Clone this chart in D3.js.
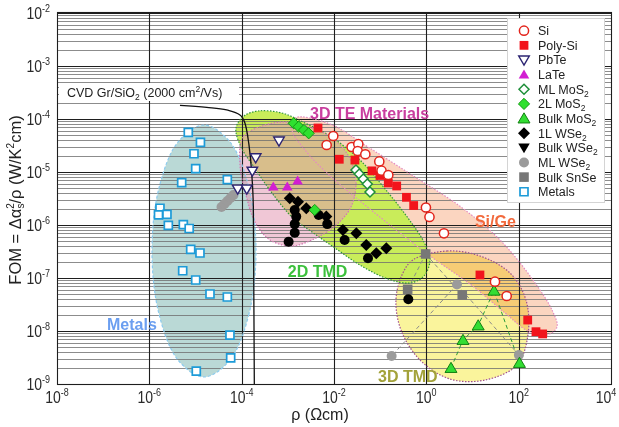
<!DOCTYPE html>
<html>
<head>
<meta charset="utf-8">
<script src="https://cdn.jsdelivr.net/npm/d3@7"></script>
<style>
  html, body { margin: 0; padding: 0; background: #fff; }
  svg { display: block; font-family: "Liberation Sans", Arial, sans-serif; }
</style>
</head>
<body>
<svg id="chart" width="619" height="427"></svg>
<script>
// ---------- measured points: [resistivity ρ (Ω·cm), FOM (W/K²cm)] ----------
const si = [[6.93e-3,3.23e-5],[9.64e-3,4.78e-5],[2.41e-2,2.96e-5],[3.36e-2,3.37e-5],[3.26e-2,2.49e-5],
  [4.77e-2,2.16e-5],[9.57e-2,1.58e-5],[0.107,1.06e-5],[0.150,8.77e-6],[0.98,2.14e-6],[1.17,1.42e-6],
  [2.41,6.97e-7],[30.7,8.51e-8],[55,4.57e-8]];
const polySi = [[4.50e-3,6.76e-5],[1.30e-2,1.74e-5],[2.84e-2,1.68e-5],[6.65e-2,1.05e-5],[9.9e-2,8.6e-6],
  [0.150,6.2e-6],[0.228,5.45e-6],[0.371,3.33e-6],[0.532,2.33e-6],[14.5,1.14e-7],[157,1.61e-8],
  [237,9.7e-9],[331,8.8e-9]];
const pbte = [[6.43e-4,3.85e-5],[2.01e-4,1.86e-5],[1.70e-4,1.04e-5],[8.2e-5,4.78e-6],[1.29e-4,4.78e-6]];
const late = [[4.84e-4,5.32e-6],[9.73e-4,5.32e-6],[1.63e-3,6.92e-6]];
const mlMoS2 = [[2.99e-2,1.09e-5],[3.53e-2,9.16e-6],[4.31e-2,7.38e-6],[5.26e-2,5.94e-6],[6.02e-2,4.2e-6]];
const twoLMoS2 = [[1.34e-3,8.3e-5],[1.72e-3,7.16e-5],[2.24e-3,6.19e-5],[2.83e-3,5.37e-5],[3.82e-3,1.92e-6]];
const bulkMoS2 = [[3.42,2.0e-9],[6.22,6.76e-9],[13.3,1.27e-8],[29.2,5.75e-8],[104,2.49e-9]];
const oneLWSe2 = [[1.10e-3,3.19e-6],[1.66e-3,2.75e-6],[2.51e-3,2.07e-6],[6.81e-3,1.44e-6],[1.56e-2,8.05e-7],
  [3.04e-2,6.97e-7],[5.0e-2,4.2e-7],[8.24e-2,2.92e-7],[0.136,3.63e-7]];
const bulkWSe2 = [];
const wse2Dots = [[1.41e-3,1.92e-6],[1.52e-3,1.44e-6],[1.41e-3,1.04e-6],[1.41e-3,7.16e-7],[1.04e-3,4.84e-7],
  [4.66e-3,1.55e-6],[7.14e-3,1.04e-6],[1.70e-2,5.21e-7],[5.45e-2,2.36e-7],[0.407,3.96e-8]];
const mlWSe2 = [[3.66e-5,2.19e-6],[4.25e-5,2.49e-6],[4.93e-5,2.84e-6],[5.73e-5,3.23e-6],[6.65e-5,3.68e-6],
  [4.61,7.53e-8],[0.177,3.37e-9],[101,3.52e-9]];
const bulkSnSe = [[0.968,2.84e-7],[0.394,6.12e-8],[6.0,4.78e-8]];
const metals = [[6.98e-6,5.61e-5],[1.28e-5,3.63e-5],[9.27e-6,2.21e-5],[1.01e-5,1.16e-5],[5.02e-6,6.28e-6],
  [4.89e-5,7.21e-6],[1.70e-6,2.07e-6],[1.58e-6,1.55e-6],[2.41e-6,1.58e-6],[2.58e-6,9.86e-7],[5.45e-6,1.02e-6],
  [7.30e-6,8.59e-7],[7.87e-6,3.48e-7],[1.25e-5,2.96e-7],[5.28e-6,1.37e-7],[1.01e-5,9.16e-8],[2.06e-5,4.99e-8],
  [4.89e-5,4.38e-8],[5.58e-5,8.34e-9],[5.78e-5,3.12e-9],[1.04e-5,1.75e-9]];

// CVD graphene on SiO2 (2000 cm²/Vs) curve
const cvdGraphene = [[4.61e-6,1.81e-4],[1.75e-5,1.66e-4],[4.74e-5,1.48e-4],[9.2e-5,1.19e-4],[1.18e-4,8.3e-5],
  [1.39e-4,4.02e-5],[1.65e-4,9.44e-6],[1.79e-4,2.21e-6],[1.88e-4,1e-9]];

// material-class regions: outline vertices in decades [log10 ρ, log10 FOM]
const regionMetals = [[-3.690,-6.491],[-3.842,-7.679],[-4.253,-8.547],[-4.816,-8.868],[-5.379,-8.547],
  [-5.791,-7.679],[-5.942,-6.491],[-5.791,-5.302],[-5.379,-4.434],[-4.816,-4.113],[-4.253,-4.434],[-3.842,-5.302]];
const region2dTmd = [[-4.123,-4.170],[-3.950,-3.943],[-3.647,-3.849],[-3.127,-3.887],[-2.629,-4.075],
  [-2.087,-4.321],[-1.437,-4.774],[-0.874,-5.340],[-0.398,-5.868],[-0.051,-6.321],[0.079,-6.660],
  [-0.051,-6.962],[-0.354,-7.094],[-0.831,-7.019],[-1.437,-6.755],[-1.979,-6.434],[-2.477,-6.132],
  [-2.889,-5.868],[-3.343,-5.396],[-3.733,-4.906],[-4.015,-4.528]];
const region3dTe = [[-3.971,-4.340],[-3.560,-4.132],[-3.062,-4.057],[-2.520,-4.151],[-2.044,-4.358],
  [-1.697,-4.679],[-1.524,-5.151],[-1.632,-5.660],[-1.979,-6.019],[-2.434,-6.264],[-2.910,-6.396],
  [-3.387,-6.283],[-3.712,-5.943],[-3.906,-5.434],[-4.036,-4.868]];
const regionSiGe = [[-2.845,-3.981],[-2.087,-4.094],[-1.264,-4.528],[-0.246,-5.094],[0.750,-5.660],
  [1.595,-6.283],[2.310,-7.038],[2.743,-7.642],[2.830,-7.925],[2.613,-8.075],[2.201,-8.000],[1.703,-7.660],
  [0.945,-7.113],[0.079,-6.585],[-0.679,-6.075],[-1.437,-5.547],[-2.087,-5.075],[-2.629,-4.585],[-2.910,-4.208]];
const region3dTmd = [[-0.290,-6.660],[0.447,-6.491],[1.162,-6.585],[1.812,-6.906],[2.158,-7.415],
  [2.201,-8.075],[1.963,-8.642],[1.270,-8.925],[0.512,-8.906],[-0.138,-8.547],[-0.549,-7.981],
  [-0.658,-7.415],[-0.528,-6.943]];

// axis ticks
const xTicks = [1e-8, 1e-6, 1e-4, 1e-2, 1, 1e2, 1e4];
const xTickExp = ["-8", "-6", "-4", "-2", "0", "2", "4"];
const yTicks = [1e-9, 1e-8, 1e-7, 1e-6, 1e-5, 1e-4, 1e-3, 1e-2];
const yTickExp = ["-9", "-8", "-7", "-6", "-5", "-4", "-3", "-2"];

// ---------- drawing ----------
const svg = d3.select("#chart");
const x = d3.scaleLog().domain([1e-8, 1e4]).range([57, 611]);
const y = d3.scaleLog().domain([1e-9, 1e-2]).range([384, 13]);
const px = d => x(d[0]), py = d => y(d[1]);
const lx = d => x(Math.pow(10, d[0])), ly = d => y(Math.pow(10, d[1]));
const outline = d3.line().x(lx).y(ly).curve(d3.curveCatmullRomClosed.alpha(0.5));

const regionStyles = [
  { pts: regionSiGe,   fill: "#fbd5c0", op: 1,    blend: "normal",   stroke: "#e48ac2", dash: "1.5,1.5" },
  { pts: region3dTmd,  fill: "#faf49c", op: 1,    blend: "multiply", stroke: "#a0508f", dash: "1.5,1.5" },
  { pts: regionMetals, fill: "#bad9d6", op: 1,    blend: "normal",   stroke: "#8ccbef", dash: "3,2" },
  { pts: region2dTmd,  fill: "#c9ec5a", op: 1,    blend: "normal",   stroke: "#2f963a", dash: "1.5,1.5" },
  { pts: region3dTe,   fill: "#e499b4", op: 0.55, blend: "normal",   stroke: "#d478b6", dash: "1.5,1.5" }
];

const gFill = svg.append("g");
regionStyles.forEach(r => {
  gFill.append("path").attr("d", outline(r.pts))
    .attr("fill", r.fill).attr("fill-opacity", r.op)
    .style("mix-blend-mode", r.blend);
});

// grid
const gGrid = svg.append("g");
const hLines = [];
for (let e = -9; e <= -3; e++) for (let m = 1; m <= 9; m++) hLines.push({ v: m * Math.pow(10, e), major: m === 1 });
hLines.push({ v: 1e-2, major: true });
gGrid.selectAll("line.h").data(hLines).join("line")
  .attr("x1", 57).attr("x2", 611)
  .attr("y1", d => Math.round(y(d.v)) + 0.5).attr("y2", d => Math.round(y(d.v)) + 0.5)
  .attr("stroke", d => d.major ? "#1e1e1e" : "#6e6e6e")
  .attr("stroke-width", d => d.major ? 1.1 : 0.8);
gGrid.selectAll("line.v").data([1e-6, 1e-4, 1e-2, 1, 1e2]).join("line")
  .attr("y1", 13).attr("y2", 384)
  .attr("x1", d => Math.round(x(d)) + 0.5).attr("x2", d => Math.round(x(d)) + 0.5)
  .attr("stroke", "#1e1e1e").attr("stroke-width", 1.1);

// region borders
regionStyles.forEach(r => {
  svg.append("path").attr("d", outline(r.pts)).attr("fill", "none")
    .attr("stroke", r.stroke).attr("stroke-width", 1.2).attr("stroke-dasharray", r.dash);
});

// CVD graphene label and curve
const cvdLabel = svg.append("g");
cvdLabel.append("rect").attr("x", 59).attr("y", 83).attr("width", 180).attr("height", 18).attr("fill", "#fff");
const cvdText = cvdLabel.append("text").attr("x", 67).attr("y", 97).attr("font-size", 12.5).attr("fill", "#222");
cvdText.append("tspan").text("CVD Gr/SiO");
cvdText.append("tspan").attr("font-size", 8.5).attr("dy", 3).text("2");
cvdText.append("tspan").attr("dy", -3).text(" (2000 cm");
cvdText.append("tspan").attr("font-size", 8.5).attr("dy", -5).text("2");
cvdText.append("tspan").attr("dy", 5).text("/Vs)");

svg.append("path").datum(cvdGraphene)
  .attr("d", d3.line().x(px).y(py).curve(d3.curveMonotoneX))
  .attr("fill", "none").attr("stroke", "#111").attr("stroke-width", 1.3);

// dashed guides linking related samples
const grayLinks = [[bulkSnSe[0], bulkSnSe[1]], [bulkSnSe[0], bulkSnSe[2]], [mlWSe2[5], mlWSe2[6]], [mlWSe2[5], mlWSe2[7]]];
svg.append("g").selectAll("path").data(grayLinks).join("path")
  .attr("d", d3.line().x(px).y(py))
  .attr("fill", "none").attr("stroke", "#8a8a8a").attr("stroke-width", 1).attr("stroke-dasharray", "4,3");
svg.append("path").datum(bulkMoS2)
  .attr("d", d3.line().x(px).y(py))
  .attr("fill", "none").attr("stroke", "#2a9a3a").attr("stroke-width", 1).attr("stroke-dasharray", "4,3");

// region names
const regionNames = [
  { t: "3D TE Materials", x: 3.02e-3, y: 9.8e-5, c: "#c93f9f" },
  { t: "Si/Ge", x: 11.3, y: 9.2e-7, c: "#f2693c" },
  { t: "2D TMD", x: 1.0e-3, y: 1.04e-7, c: "#3cc03c" },
  { t: "3D TMD", x: 0.0897, y: 1.11e-9, c: "#a3a23a" },
  { t: "Metals", x: 1.21e-7, y: 1.05e-8, c: "#6b9ef0" }
];
svg.append("g").selectAll("text").data(regionNames).join("text")
  .attr("x", d => x(d.x)).attr("y", d => y(d.y))
  .attr("font-size", 16).attr("font-weight", "bold").attr("fill", d => d.c)
  .text(d => d.t);

// markers
function shapePath(shape, r) {
  switch (shape) {
    case "circle": return `M${r},0A${r},${r} 0 1,1 ${-r},0A${r},${r} 0 1,1 ${r},0Z`;
    case "square": return `M${-r},${-r}H${r}V${r}H${-r}Z`;
    case "triUp": return `M0,${-r * 1.1}L${r * 1.15},${r * 0.85}L${-r * 1.15},${r * 0.85}Z`;
    case "triDown": return `M0,${r * 1.1}L${r * 1.15},${-r * 0.85}L${-r * 1.15},${-r * 0.85}Z`;
    case "diamond": return `M0,${-r}L${r},0L0,${r}L${-r},0Z`;
  }
}
const series = [
  { key: "metals",   data: metals,   label: "Metals",     shape: "square",  r: 4,   fill: "#fff",    stroke: "#1d9bd8", sw: 1.7 },
  { key: "mlWSe2",   data: mlWSe2,   label: "ML WSe_2",   shape: "circle",  r: 5,   fill: "#9b9b9b", stroke: "none",    sw: 0 },
  { key: "bulkSnSe", data: bulkSnSe, label: "Bulk SnSe",  shape: "square",  r: 4.8, fill: "#777",    stroke: "none",    sw: 0 },
  { key: "wse2Dots", data: wse2Dots, label: null,         shape: "circle",  r: 5,   fill: "#000",    stroke: "none",    sw: 0 },
  { key: "oneLWSe2", data: oneLWSe2, label: "1L WSe_2",   shape: "diamond", r: 6,   fill: "#000",    stroke: "none",    sw: 0 },
  { key: "bulkWSe2", data: bulkWSe2, label: "Bulk WSe_2", shape: "triDown", r: 5,   fill: "#000",    stroke: "none",    sw: 0 },
  { key: "pbte",     data: pbte,     label: "PbTe",       shape: "triDown", r: 4.6, fill: "#fff",    stroke: "#2c2472", sw: 1.4 },
  { key: "late",     data: late,     label: "LaTe",       shape: "triUp",   r: 4.6, fill: "#d21ed2", stroke: "none",    sw: 0 },
  { key: "mlMoS2",   data: mlMoS2,   label: "ML MoS_2",   shape: "diamond", r: 5,   fill: "#fff",    stroke: "#1f8f3a", sw: 1.5 },
  { key: "twoLMoS2", data: twoLMoS2, label: "2L MoS_2",   shape: "diamond", r: 5.6, fill: "#2fe02f", stroke: "#149a14", sw: 1 },
  { key: "bulkMoS2", data: bulkMoS2, label: "Bulk MoS_2", shape: "triUp",   r: 5.2, fill: "#33dd33", stroke: "#128012", sw: 1 },
  { key: "polySi",   data: polySi,   label: "Poly-Si",    shape: "square",  r: 4.4, fill: "#f2141c", stroke: "none",    sw: 0 },
  { key: "si",       data: si,       label: "Si",         shape: "circle",  r: 4.6, fill: "#fff",    stroke: "#e3241c", sw: 1.5 }
];
const gPts = svg.append("g");
series.forEach(s => {
  gPts.append("g").selectAll("path").data(s.data).join("path")
    .attr("transform", d => `translate(${px(d)},${py(d)})`)
    .attr("d", shapePath(s.shape, s.r))
    .attr("fill", s.fill).attr("stroke", s.stroke).attr("stroke-width", s.sw);
});

// frame
svg.append("rect").attr("x", 57.5).attr("y", 12.5).attr("width", 554).attr("height", 372)
  .attr("fill", "none").attr("stroke", "#1e1e1e").attr("stroke-width", 1.1);

// tick labels (10 with superscripted exponent)
function powerLabel(g, exp, anchor) {
  const t = g.append("text").attr("text-anchor", anchor).attr("fill", "#2a2a2a").attr("font-size", 14);
  t.append("tspan").text("10");
  t.append("tspan").attr("font-size", 9).attr("dy", -6).text(exp);
  return t;
}
xTicks.forEach((v, i) => {
  const cx = Math.min(x(v), 606);   // keep the last label inside the page
  const g = svg.append("g").attr("transform", `translate(${cx},403) scale(1,1.12)`);
  powerLabel(g, xTickExp[i], "middle");
});
yTicks.forEach((v, i) => {
  const g = svg.append("g").attr("transform", `translate(50,${y(v) + 6}) scale(1,1.12)`);
  powerLabel(g, yTickExp[i], "end");
});

// axis titles
svg.append("text").attr("x", 320).attr("y", 420).attr("text-anchor", "middle")
  .attr("font-size", 16).attr("fill", "#222").text("ρ (Ωcm)");

const yt = svg.append("text").attr("transform", "translate(21,200) rotate(-90)")
  .attr("text-anchor", "middle").attr("font-size", 16.5).attr("fill", "#222");
yt.append("tspan").text("FOM = Δα");
yt.append("tspan").attr("font-size", 10).attr("dy", -7).text("2");
yt.append("tspan").attr("font-size", 10).attr("dx", -5.5).attr("dy", 10).text("s");
yt.append("tspan").attr("dy", -3).text("/ρ (W/K");
yt.append("tspan").attr("font-size", 10).attr("dy", -7).text("2");
yt.append("tspan").attr("dy", 7).text("cm)");

// legend
const legendOrder = ["si", "polySi", "pbte", "late", "mlMoS2", "twoLMoS2", "bulkMoS2", "oneLWSe2", "bulkWSe2", "mlWSe2", "bulkSnSe", "metals"];
const legendRows = legendOrder.map(k => series.find(s => s.key === k));
const lg = svg.append("g");
lg.append("rect").attr("x", 507.5).attr("y", 18.5).attr("width", 97).attr("height", 184)
  .attr("fill", "#fff").attr("stroke", "#d4d4d4");
legendRows.forEach((s, i) => {
  const cy = 30.7 + i * 14.64;
  lg.append("path").attr("transform", `translate(524,${cy})`)
    .attr("d", shapePath(s.shape, s.r)).attr("fill", s.fill)
    .attr("stroke", s.stroke).attr("stroke-width", s.sw);
  const parts = s.label.split("_");
  const t = lg.append("text").attr("x", 538).attr("y", cy + 4.5).attr("font-size", 12.5).attr("fill", "#222");
  t.append("tspan").text(parts[0]);
  if (parts[1]) t.append("tspan").attr("font-size", 8.5).attr("dy", 3).text(parts[1]);
});
</script>
</body>
</html>
